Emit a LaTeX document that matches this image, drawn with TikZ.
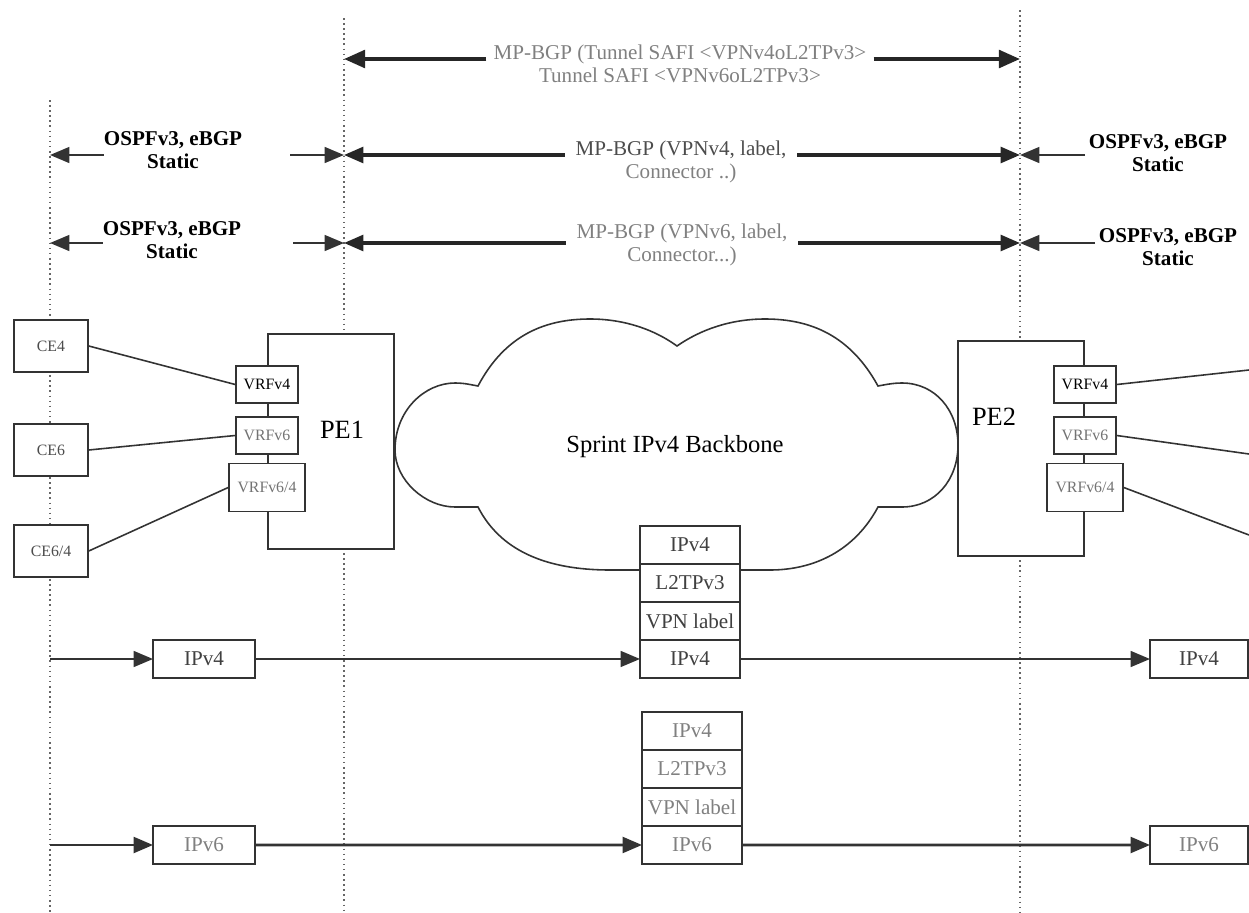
\documentclass[tikz,border=0pt]{standalone}
\usepackage{fontspec}
\setmainfont{Liberation Serif}
\usetikzlibrary{positioning,arrows.meta}

\begin{document}
\begin{tikzpicture}[x=0.02cm,y=-0.02cm,
    guide/.style={dotted,line width=0.9pt,black!60},
    box/.style={draw=black!80,line width=0.9pt,fill=white,inner sep=0pt,font=\fontsize{9}{10}\selectfont},
    cebox/.style={box,minimum width=1.48cm,minimum height=1.04cm,text=black!70},
    vrf/.style={box,minimum width=1.24cm,minimum height=0.74cm},
    vrfwide/.style={box,minimum width=1.52cm,minimum height=0.96cm},
    pebox/.style={draw=black!80,line width=0.9pt,fill=white,minimum width=2.52cm,minimum height=4.3cm},
    layer/.style={box,outer sep=0pt,minimum width=2cm,minimum height=0.76cm,font=\fontsize{12}{13}\selectfont,text=black!75},
    ipbox/.style={layer,minimum width=2.04cm},
    proto/.style={align=center,inner sep=0pt,font=\bfseries\fontsize{12}{13}\selectfont},
    bgp/.style={align=center,inner xsep=6pt,font=\fontsize{12}{13}\selectfont},
    tip/.style={-{Triangle[length=11pt,width=9pt]}},
    thin/.style={tip,line width=1.1pt,black!80},
    fat/.style={tip,line width=1.8pt,black!85},
    link/.style={line width=0.9pt,black!80}]

\useasboundingbox (0,0) rectangle (1249,913);

% dotted borders
\draw[guide] (50,100) -- (50,913);
\draw[guide] (344,18) -- (344,913);
\draw[guide] (1020,10) -- (1020,913);

% ends on the borders
\coordinate (tl) at (344,59);
\coordinate (tr) at (1020,59);
\coordinate (al) at (50,155);
\coordinate (am) at (344,155);
\coordinate (ar) at (1020,155);
\coordinate (bl) at (50,243);
\coordinate (bm) at (344,243);
\coordinate (br) at (1020,243);
\coordinate (as) at (290,155);
\coordinate (bs) at (293,243);

% tunnel SAFI
\node[bgp,inner xsep=4pt,text=black!50] (tun) at (680,64) {MP-BGP (Tunnel SAFI <VPNv4oL2TPv3>\\Tunnel SAFI <VPNv6oL2TPv3>};
\draw[fat,line width=2.2pt,-{Triangle[length=12pt,width=10pt]}] (tun.west |- tl) -- (tl);
\draw[fat,line width=2.2pt,-{Triangle[length=12pt,width=10pt]}] (tun.east |- tr) -- (tr);

% VPNv4 row
\node[proto] (osl1) at (173,150) {OSPFv3, eBGP\\Static};
\draw[thin] (osl1.west |- al) -- (al);
\draw[thin] (as) -- (am);
\node[bgp,text=black!70] (mp4) at (681,162) {MP-BGP (VPNv4, label,\\{\color{black!50}Connector ..)}};
\draw[fat] (mp4.west |- am) -- (am);
\draw[fat] (mp4.east |- ar) -- (ar);
\node[proto] (osr1) at (1158,153) {OSPFv3, eBGP\\Static};
\draw[thin] ([xshift=-2pt]osr1.west |- ar) -- (ar);

% VPNv6 row
\node[proto] (osl2) at (172,240) {OSPFv3, eBGP\\Static};
\draw[thin] (osl2.west |- bl) -- (bl);
\draw[thin] (bs) -- (bm);
\node[bgp,text=black!50] (mp6) at (682,245) {MP-BGP (VPNv6, label,\\Connector...)};
\draw[fat] (mp6.west |- bm) -- (bm);
\draw[fat] (mp6.east |- br) -- (br);
\node[proto] (osr2) at (1168,247) {OSPFv3, eBGP\\Static};
\draw[thin] ([xshift=-2pt]osr2.west |- br) -- (br);

% CE routers
\node[cebox] (ce4) at (51,346) {CE4};
\node[cebox] (ce6) at (51,450) {CE6};
\node[cebox] (ce64) at (51,551) {CE6/4};

% backbone
\draw[link] (395,450) .. controls (395,410) and (425,383) .. (455,383)
    .. controls (465,383) and (472,385) .. (478,386)
    .. controls (505,335) and (545,319) .. (590,319)
    .. controls (625,319) and (655,330) .. (677,346)
    .. controls (700,330) and (730,319) .. (765,319)
    .. controls (810,319) and (850,335) .. (878,386)
    .. controls (884,385) and (892,383) .. (902,383)
    .. controls (935,383) and (958,410) .. (958,445)
    .. controls (958,480) and (935,507) .. (902,507)
    .. controls (892,507) and (884,507) .. (878,507)
    .. controls (855,550) and (815,570) .. (770,570)
    -- (610,570)
    .. controls (545,570) and (500,550) .. (478,507)
    .. controls (472,507) and (465,507) .. (455,507)
    .. controls (425,507) and (395,480) .. (395,450) -- cycle;
\node[font=\fontsize{14}{15}\selectfont] (core) at (675,447) {Sprint IPv4 Backbone};

% PE1
\node[pebox] (pe1) at (331,441.5) {};
\node[font=\fontsize{15}{16}\selectfont] (pe1lab) at (342,430) {PE1};
\node[vrf] (v4a) at (267,384.5) {VRFv4};
\node[vrf,text=black!55] (v6a) at (267,435.5) {VRFv6};
\node[vrfwide,text=black!55] (v64a) at (267,487.5) {VRFv6/4};

% PE2
\node[pebox] (pe2) at (1021,448.5) {};
\node[font=\fontsize{15}{16}\selectfont] (pe2lab) at (994,417) {PE2};
\node[vrf] (v4b) at (1085,384.5) {VRFv4};
\node[vrf,text=black!55] (v6b) at (1085,435.5) {VRFv6};
\node[vrfwide,text=black!55] (v64b) at (1085,487.5) {VRFv6/4};

% attachment circuits
\coordinate (o4) at (1249,370);
\coordinate (o6) at (1249,454);
\coordinate (o64) at (1249,535);
\draw[link] (ce4.east) -- (v4a.west);
\draw[link] (ce6.east) -- (v6a.west);
\draw[link] (ce64.east) -- (v64a.west);
\draw[link] (v4b.east) -- (o4);
\draw[link] (v6b.east) -- (o6);
\draw[link] (v64b.east) -- (o64);

% IPv4 packet
\node[layer] (sa1) at (690,545) {IPv4};
\node[layer,below=0pt of sa1] (sa2) {L2TPv3};
\node[layer,below=0pt of sa2] (sa3) {VPN label};
\node[layer,below=0pt of sa3] (sa4) {IPv4};
\node[ipbox] (ipa) at (204,659) {IPv4};
\node[ipbox,minimum width=1.96cm] (ipc) at (1199,659) {IPv4};
\coordinate (pa) at (50,659);
\draw[thin] (pa) -- (ipa.west);
\draw[thin] (ipa.east) -- (sa4.west);
\draw[thin] (sa4.east) -- (ipc.west);

% IPv6 packet
\node[layer,text=black!50] (sb1) at (692,731) {IPv4};
\node[layer,text=black!50,below=0pt of sb1] (sb2) {L2TPv3};
\node[layer,text=black!50,below=0pt of sb2] (sb3) {VPN label};
\node[layer,text=black!50,below=0pt of sb3] (sb4) {IPv6};
\node[ipbox,text=black!50] (ipd) at (204,845) {IPv6};
\node[ipbox,text=black!50,minimum width=1.96cm] (ipf) at (1199,845) {IPv6};
\coordinate (pd) at (50,845);
\draw[thin,line width=1.5pt] (pd) -- (ipd.west);
\draw[thin,line width=1.5pt] (ipd.east) -- (sb4.west);
\draw[thin,line width=1.5pt] (sb4.east) -- (ipf.west);
\end{tikzpicture}
\end{document}
